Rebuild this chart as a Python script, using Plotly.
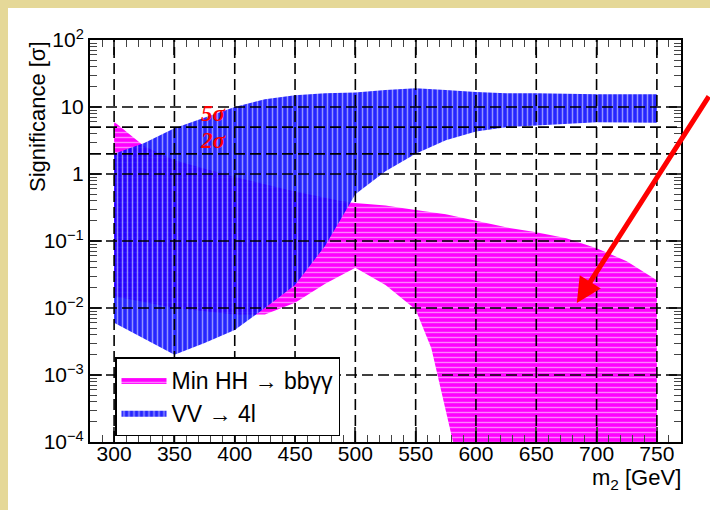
import math
import plotly.graph_objects as go

# ---------------- data ----------------
# Min HH -> bbyy band (upper edge and lower edge)
hh_up_x = [300, 325, 350, 400, 450, 487, 500, 525, 550, 575, 600, 625, 650, 675, 700, 725, 750]
hh_up_y = [6.0, 2.6, 1.6, 0.9, 0.55, 0.40, 0.37, 0.34, 0.29, 0.25, 0.20, 0.16, 0.135, 0.11, 0.078, 0.05, 0.026]
hh_lo_x = [300, 350, 400, 425, 450, 475, 500, 525, 550, 563, 572, 581, 750]
hh_lo_y = [0.015, 0.01, 0.008, 0.008, 0.012, 0.023, 0.04, 0.022, 0.0095, 0.0025, 0.0005, 0.0001, 0.0001]

# VV -> 4l band
vv_x = [300, 325, 350, 375, 400, 425, 450, 475, 500, 525, 550, 575, 600, 625, 650, 700, 750]
vv_up = [2.0, 2.9, 4.8, 7.0, 10, 13, 15, 16, 16.5, 18, 19, 18, 16.7, 16, 16, 15.5, 15.5]
vv_lo = [0.006, 0.0035, 0.002, 0.003, 0.0047, 0.01, 0.022, 0.085, 0.5, 1.1, 2.0, 3.2, 4.3, 5.0, 5.3, 5.9, 5.8]

x_ticks = [300, 350, 400, 450, 500, 550, 600, 650, 700, 750]
y_ticks = [1e-4, 1e-3, 1e-2, 1e-1, 1, 10, 100]
y_ticktext = ["10<sup>−4</sup>", "10<sup>−3</sup>", "10<sup>−2</sup>", "10<sup>−1</sup>", "1", "10", "10<sup>2</sup>"]
sigma_levels = [5, 2]
sigma_labels = ["5σ", "2σ"]
sigma_label_x = 382
sigma_label_y = [8.1, 3.2]
x_range = [280, 770]
y_range = [-4, 2]

FONT = "Liberation Sans, Arial, sans-serif"
MAG = "#FF00FF"
BLUE = "#0000FF"
CREAM = "#E5D898"

fig = go.Figure()

fig.add_trace(go.Scatter(
    x=hh_up_x + hh_lo_x[::-1], y=hh_up_y + hh_lo_y[::-1],
    fill="toself", mode="lines", line=dict(width=0, color=MAG),
    fillcolor=MAG,
    fillpattern=dict(shape="-", fgcolor="white", bgcolor=MAG, size=5, solidity=0.28,
                     fillmode="overlay"),
    name="Min HH → bbγγ", hoverinfo="skip"))

fig.add_trace(go.Scatter(
    x=vv_x + vv_x[::-1], y=vv_up + vv_lo[::-1],
    fill="toself", mode="lines", line=dict(width=0, color=BLUE),
    fillcolor="rgba(0,0,255,0.85)",
    fillpattern=dict(shape="|", fgcolor="white", bgcolor="rgba(0,0,255,0.85)", size=5,
                     solidity=0.3, fillmode="overlay"),
    name="VV → 4l", hoverinfo="skip"))

W, H, L, T, PW, PH = 710, 510, 90, 40, 591, 402
shapes = []
# cream border strips (top and left)
shapes.append(dict(type="rect", xref="paper", yref="paper",
                   x0=(0 - L) / PW, x1=(W - L) / PW,
                   y0=(T + PH - 8) / PH, y1=(T + PH) / PH,
                   fillcolor=CREAM, line=dict(width=0), layer="below"))
shapes.append(dict(type="rect", xref="paper", yref="paper",
                   x0=(0 - L) / PW, x1=(8 - L) / PW,
                   y0=(T + PH - H) / PH, y1=(T + PH) / PH,
                   fillcolor=CREAM, line=dict(width=0), layer="below"))
grid_line = dict(color="black", width=1.6, dash="11px,5px")
for xv in x_ticks:
    shapes.append(dict(type="line", xref="x", yref="paper", x0=xv, x1=xv, y0=0, y1=1,
                       line=grid_line, layer="above"))
for yv in y_ticks[1:-1] + sigma_levels:
    shapes.append(dict(type="line", xref="paper", yref="y", x0=0, x1=1, y0=yv, y1=yv,
                       line=grid_line, layer="above"))

y_minor = [m * 10 ** k for k in range(-4, 2) for m in range(2, 10)]

annotations = []
for lab, yv in zip(sigma_labels, sigma_label_y):
    annotations.append(dict(x=sigma_label_x, y=math.log10(yv), xref="x", yref="y",
                            xanchor="center", yanchor="middle",
                            text="<b><i>" + lab + "</i></b>", showarrow=False,
                            font=dict(family="Liberation Serif, serif", size=23, color="#FF0000")))
annotations.append(dict(xref="paper", yref="paper", x=(38 - L) / PW, y=(T + PH - 117) / PH,
                        xanchor="center", yanchor="middle",
                        text="Significance [σ]", textangle=-90, showarrow=False,
                        font=dict(family=FONT, size=22, color="black")))
annotations.append(dict(xref="paper", yref="paper", x=(683 - L) / PW, y=(T + PH - 479) / PH,
                        xanchor="right", yanchor="middle",
                        text="m<sub>2</sub> [GeV]", showarrow=False,
                        font=dict(family=FONT, size=22, color="black")))
# red arrow
annotations.append(dict(x=683.6, y=math.log10(0.0119), xref="x", yref="y",
                        ax=133, ay=-208, text="", showarrow=True,
                        arrowcolor="#FF0000", arrowwidth=5, arrowhead=2, arrowsize=1.0))

fig.update_layout(
    width=W, height=H,
    margin=dict(l=L, r=W - L - PW, t=T, b=H - T - PH),
    paper_bgcolor="white", plot_bgcolor="white",
    font=dict(family=FONT, size=21, color="black"),
    showlegend=True,
    legend=dict(x=(115 - L) / PW, y=(T + PH - 357) / PH, xanchor="left", yanchor="top",
                bgcolor="white", bordercolor="black", borderwidth=1.5,
                font=dict(family=FONT, size=23, color="black"),
                itemwidth=45, tracegroupgap=0),
    shapes=shapes, annotations=annotations,
)
fig.update_xaxes(range=x_range, tickvals=x_ticks, ticks="inside", ticklen=15, tickwidth=1.5,
                 showline=True, linecolor="black", linewidth=2, mirror="allticks",
                 showgrid=False, zeroline=False, ticklabelstandoff=-8,
                 minor=dict(ticks="inside", ticklen=7, dtick=10, tick0=300, tickwidth=1.3, showgrid=False),
                 tickfont=dict(size=21))
fig.update_yaxes(type="log", range=y_range, tickvals=y_ticks, ticktext=y_ticktext,
                 ticks="inside", ticklen=12, tickwidth=1.5,
                 showline=True, linecolor="black", linewidth=2, mirror="allticks",
                 showgrid=False, zeroline=False,
                 minor=dict(ticks="inside", ticklen=7, tickvals=y_minor, tickwidth=1.3, showgrid=False),
                 tickfont=dict(size=21))

fig.write_html("out.html", config={"displayModeBar": False},
               post_script="document.body.style.margin='0';document.body.style.overflow='hidden';")
